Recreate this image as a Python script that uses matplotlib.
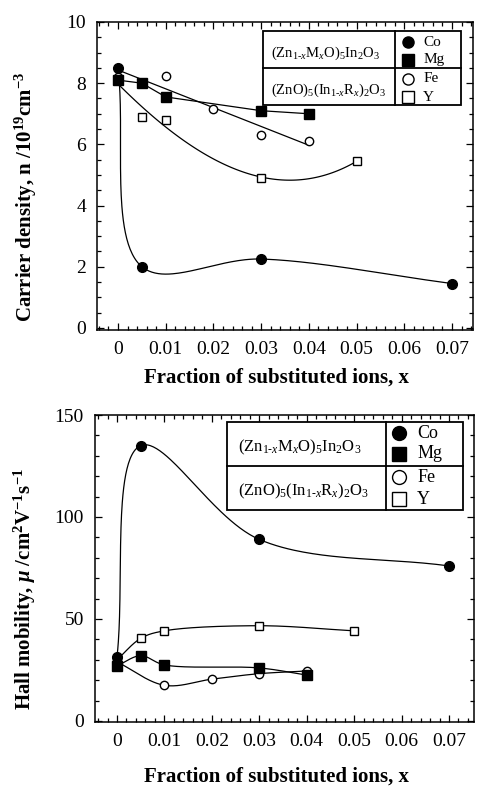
import numpy as np
import matplotlib
matplotlib.use("Agg")
import matplotlib.pyplot as plt
from matplotlib.ticker import MultipleLocator
from matplotlib.patches import Rectangle

plt.rcParams['font.family'] = ['Liberation Serif', 'DejaVu Serif']
plt.rcParams['mathtext.fontset'] = 'custom'
plt.rcParams['mathtext.rm'] = 'Liberation Serif'
plt.rcParams['mathtext.it'] = 'Liberation Serif:italic'
plt.rcParams['mathtext.bf'] = 'Liberation Serif:bold'
plt.rcParams['mathtext.bfit'] = 'Liberation Serif:bold:italic'

# ---------------- data ----------------
# Carrier density (10^19 cm^-3)
n_co_x = [0.0, 0.005, 0.03, 0.07]
n_co_y = [8.5, 2.0, 2.25, 1.45]
n_mg_x = [0.0, 0.005, 0.01, 0.03, 0.04]
n_mg_y = [8.1, 8.0, 7.55, 7.1, 7.0]
n_fe_x = [0.0, 0.01, 0.02, 0.03, 0.04]
n_fe_y = [8.2, 8.25, 7.15, 6.3, 6.1]
n_y_x = [0.0, 0.005, 0.01, 0.03, 0.05]
n_y_y = [8.1, 6.9, 6.8, 4.9, 5.45]

# Hall mobility (cm^2 V^-1 s^-1)
m_co_x = [0.0, 0.005, 0.03, 0.07]
m_co_y = [31.5, 135, 89, 76]
m_mg_x = [0.0, 0.005, 0.01, 0.03, 0.04]
m_mg_y = [27, 32, 27.5, 26, 22.5]
m_fe_x = [0.0, 0.01, 0.02, 0.03, 0.04]
m_fe_y = [29, 17.5, 20.5, 23.2, 24.5]
m_y_x = [0.0, 0.005, 0.01, 0.03, 0.05]
m_y_y = [30, 40.5, 44.2, 46.7, 44.2]

xticks = [0, 0.01, 0.02, 0.03, 0.04, 0.05, 0.06, 0.07]
xticklabels = ['0', '0.01', '0.02', '0.03', '0.04', '0.05', '0.06', '0.07']
series_names = ['Co', 'Mg', 'Fe', 'Y']
compound1 = r'(Zn$_{1\text{-}x}$M$_x$O)$_5$In$_2$O$_3$'
compound2 = r'(ZnO)$_5$(In$_{1\text{-}x}$R$_x$)$_2$O$_3$'


def catmull_rom(xs, ys, sx, sy, n=60):
    P = np.column_stack([np.asarray(xs) * sx, np.asarray(ys) * sy]).astype(float)
    P = np.vstack([2 * P[0] - P[1], P, 2 * P[-1] - P[-2]])
    out = []
    for i in range(1, len(P) - 2):
        p0, p1, p2, p3 = P[i - 1], P[i], P[i + 1], P[i + 2]
        t0 = 0.0
        t1 = t0 + np.linalg.norm(p1 - p0) ** 0.5
        t2 = t1 + np.linalg.norm(p2 - p1) ** 0.5
        t3 = t2 + np.linalg.norm(p3 - p2) ** 0.5
        t = np.linspace(t1, t2, n)[:, None]
        a1 = (t1 - t) / (t1 - t0) * p0 + (t - t0) / (t1 - t0) * p1
        a2 = (t2 - t) / (t2 - t1) * p1 + (t - t1) / (t2 - t1) * p2
        a3 = (t3 - t) / (t3 - t2) * p2 + (t - t2) / (t3 - t2) * p3
        b1 = (t2 - t) / (t2 - t0) * a1 + (t - t0) / (t2 - t0) * a2
        b2 = (t3 - t) / (t3 - t1) * a2 + (t - t1) / (t3 - t1) * a3
        c = (t2 - t) / (t2 - t1) * b1 + (t - t1) / (t2 - t1) * b2
        out.append(c)
    C = np.vstack(out)
    return C[:, 0] / sx, C[:, 1] / sy


W, H = 480, 787
fig = plt.figure(figsize=(W / 100, H / 100), dpi=100)

lw = 0.9
ms_f = 7.0
ms_o = 6.0
TICK_FS = 14
LABEL_FS = 15


def style_axes(ax, ymajor, yminor):
    ax.set_xticks(xticks)
    ax.set_xticklabels(xticklabels)
    ax.xaxis.set_minor_locator(MultipleLocator(0.002))
    ax.yaxis.set_major_locator(MultipleLocator(ymajor))
    ax.yaxis.set_minor_locator(MultipleLocator(yminor))
    ax.tick_params(which='both', direction='in', top=True, right=True,
                   labelsize=TICK_FS, width=0.9)
    ax.tick_params(which='major', length=5)
    ax.tick_params(which='minor', length=3)
    ax.tick_params(axis='x', which='major', pad=8)
    ax.tick_params(axis='y', which='major', pad=8)
    for s in ax.spines.values():
        s.set_linewidth(1.1)


def draw_legend(ax, box, div_x, mid_y, mx, tx, my, lx, ly, fs_l, fs_r, ms):
    x0, x1, y0, y1 = box
    ax.add_patch(Rectangle((x0, y0), x1 - x0, y1 - y0, transform=ax.transAxes,
                           fill=True, facecolor='white', edgecolor='black',
                           lw=1.3, zorder=5, clip_on=False))
    ax.plot([div_x, div_x], [y0, y1], transform=ax.transAxes, color='black',
            lw=1.3, zorder=6, clip_on=False)
    ax.plot([x0, x1], [mid_y, mid_y], transform=ax.transAxes, color='black',
            lw=1.3, zorder=6, clip_on=False)
    styles = [dict(marker='o', mfc='black'), dict(marker='s', mfc='black'),
              dict(marker='o', mfc='white'), dict(marker='s', mfc='white')]
    for name, st, yy in zip(series_names, styles, my):
        ax.plot([mx], [yy], transform=ax.transAxes, ls='none', mec='black',
                ms=ms, mew=1.0, zorder=7, clip_on=False, **st)
        ax.text(tx, yy, name, transform=ax.transAxes, fontsize=fs_r,
                va='center', ha='left', zorder=7)
    ax.text(lx, ly[0], compound1, transform=ax.transAxes, fontsize=fs_l,
            va='center', ha='left', zorder=7)
    ax.text(lx, ly[1], compound2, transform=ax.transAxes, fontsize=fs_l,
            va='center', ha='left', zorder=7)


# ---------------- top panel ----------------
ax1 = fig.add_axes([97 / W, 1 - 330 / H, 376 / W, 308 / H])
ax1.set_xlim(-0.0044, 0.0744)
ax1.set_ylim(-0.07, 10.0)
sx1, sy1 = 4771, 30.55

cx, cy = catmull_rom(n_co_x, n_co_y, sx1, sy1)
ax1.plot(cx, cy, color='black', lw=lw)
ax1.plot(n_mg_x, n_mg_y, color='black', lw=lw)
fe_fit = np.polyfit(n_fe_x, n_fe_y, 1)
xf = np.linspace(min(n_fe_x), max(n_fe_x), 50)
ax1.plot(xf, np.polyval(fe_fit, xf), color='black', lw=lw)
y_fit = np.polyfit(n_y_x, n_y_y, 3)
xy = np.linspace(min(n_y_x), max(n_y_x), 100)
ax1.plot(xy, np.polyval(y_fit, xy), color='black', lw=lw)

ax1.plot(n_fe_x, n_fe_y, 'o', mfc='white', mec='black', ms=ms_o, mew=1.0)
ax1.plot(n_y_x, n_y_y, 's', mfc='white', mec='black', ms=ms_o, mew=1.0)
ax1.plot(n_mg_x, n_mg_y, 's', mfc='black', mec='black', ms=ms_f)
ax1.plot(n_co_x, n_co_y, 'o', mfc='black', mec='black', ms=ms_f)

style_axes(ax1, 2, 0.5)
ax1.set_xlabel('Fraction of substituted ions, x', fontsize=LABEL_FS, fontweight='bold')
ax1.xaxis.set_label_coords(0.5 - (97 + 376 / 2 - 276) / 376, -0.153)
ax1.xaxis.label.set_va('center')
ax1.set_ylabel(r'Carrier density, n /10$^{\mathbf{19}}$cm$^{\mathbf{-3}}$',
               fontsize=LABEL_FS, fontweight='bold')
ax1.yaxis.set_label_coords(-0.19, 0.5 + (176 - 197) / 308)
ax1.yaxis.label.set_va('center')

draw_legend(ax1, (0.441, 0.968, 0.7305, 0.971), 0.793, 0.851,
            0.827, 0.868, [0.935, 0.877, 0.815, 0.756],
            0.462, [0.899, 0.779], 10.5, 11, 8)

# ---------------- bottom panel ----------------
ax2 = fig.add_axes([95 / W, 1 - 722 / H, 379 / W, 307 / H])
ax2.set_xlim(-0.00464, 0.07527)
ax2.set_ylim(-0.5, 150)
sx2, sy2 = 4743, 2.04

for xs, ys in [(m_co_x, m_co_y), (m_y_x, m_y_y), (m_mg_x, m_mg_y), (m_fe_x, m_fe_y)]:
    cx, cy = catmull_rom(xs, ys, sx2, sy2)
    ax2.plot(cx, cy, color='black', lw=lw)

ax2.plot(m_fe_x, m_fe_y, 'o', mfc='white', mec='black', ms=ms_o, mew=1.0)
ax2.plot(m_y_x, m_y_y, 's', mfc='white', mec='black', ms=ms_o, mew=1.0)
ax2.plot(m_mg_x, m_mg_y, 's', mfc='black', mec='black', ms=ms_f)
ax2.plot(m_co_x, m_co_y, 'o', mfc='black', mec='black', ms=ms_f)

style_axes(ax2, 50, 10)
ax2.set_xlabel('Fraction of substituted ions, x', fontsize=LABEL_FS, fontweight='bold')
ax2.xaxis.set_label_coords(0.5 - (95 + 379 / 2 - 276) / 379, -(777 - 722) / 307)
ax2.xaxis.label.set_va('center')
ax2.set_ylabel(r'Hall mobility, $\mathbfit{\mu}$ /cm$^{\mathbf{2}}$V$^{\mathbf{-1}}$s$^{\mathbf{-1}}$',
               fontsize=LABEL_FS, fontweight='bold')
ax2.yaxis.set_label_coords(-0.185, 0.5 + (568 - 588) / 307)
ax2.yaxis.label.set_va('center')

draw_legend(ax2, (0.348, 0.971, 0.6906, 0.977), 0.768, 0.834,
            0.802, 0.85, [0.941, 0.873, 0.798, 0.726],
            0.377, [0.896, 0.752], 12, 13, 10)

fig.savefig('out.png', dpi=100)
